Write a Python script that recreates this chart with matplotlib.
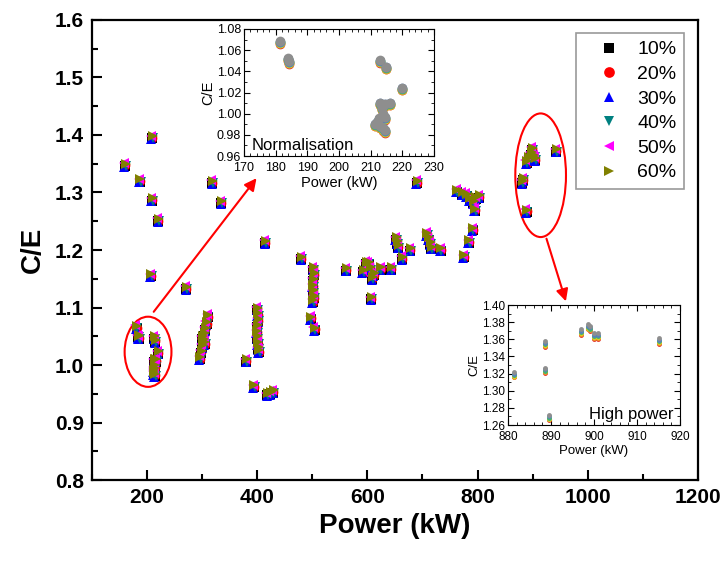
import matplotlib
matplotlib.use("Agg")
import matplotlib.pyplot as plt
import numpy as np
from matplotlib.patches import Ellipse
from matplotlib.ticker import MultipleLocator

plt.rcParams['font.family'] = ['Liberation Sans', 'DejaVu Sans']

# main plot: power (kW) and C/E of the 60% series
power = [160, 187, 209, 209, 220, 207, 271, 318, 335,
         181, 184, 185, 213, 215, 220, 213, 216, 214, 212, 214, 213, 212,
         296, 298, 300, 302, 304, 306, 308, 310, 300, 305,
         380,
         400, 401, 402, 400, 399, 400, 401, 402, 403,
         394, 418, 424, 429,
         415, 480,
         502, 503, 502, 501, 502, 503, 501, 497, 504,
         562,
         592, 598, 602, 605, 609, 612, 607, 624, 643,
         652, 654, 656, 663, 678,
         690,
         708, 711, 714, 716, 733,
         775, 784, 791,
         762, 772, 780, 786, 792, 797, 803, 795,
         881, 883, 889, 889, 893, 897, 899, 902, 905, 943]
ce = [1.350, 1.323, 1.398, 1.290, 1.254, 1.158, 1.136, 1.320, 1.285,
      1.068, 1.052, 1.050, 1.050, 1.044, 1.024, 1.010, 1.010, 1.000, 0.992, 0.985, 0.995, 0.988,
      1.014, 1.025, 1.035, 1.045, 1.055, 1.065, 1.075, 1.087, 1.050, 1.040,
      1.010,
      1.100, 1.090, 1.080, 1.070, 1.060, 1.050, 1.040, 1.031, 1.026,
      0.965, 0.951, 0.953, 0.956,
      1.216, 1.188,
      1.170, 1.160, 1.150, 1.140, 1.130, 1.120, 1.113, 1.084, 1.065,
      1.168,
      1.165, 1.180, 1.179, 1.170, 1.153, 1.160, 1.118, 1.170, 1.170,
      1.222, 1.215, 1.208, 1.188, 1.203,
      1.320,
      1.230, 1.222, 1.214, 1.206, 1.203,
      1.191, 1.217, 1.238,
      1.305, 1.300, 1.298, 1.290, 1.285, 1.292, 1.295, 1.272,
      1.320, 1.325, 1.270, 1.355, 1.362, 1.370, 1.378, 1.365, 1.360, 1.375]

labels = ['10%', '20%', '30%', '40%', '50%', '60%']
markers = ['s', 'o', '^', 'v', '<', '>']
colors = ['black', 'red', 'blue', '#008080', 'magenta', '#808000']
# how far each series sits from the 60% one
ce_shift = [-0.004, -0.003, -0.005, -0.004, 0.001, 0.0]
power_shift = [0, 0, -1.0, 1.5, -2.0, 1.0]

# normalisation inset
norm_power = [181.5, 184, 184.3, 213, 215, 220, 213, 214.5, 216, 213.5, 214, 214.5,
              212, 211.5, 213, 214, 214.5, 212.5]
norm_ce = [1.068, 1.052, 1.049, 1.050, 1.044, 1.024, 1.010, 1.009, 1.010, 1.005, 0.999, 0.996,
           0.992, 0.990, 0.988, 0.986, 0.984, 0.995]
norm_shift = [-0.002, -0.0015, -0.001, -0.0005, 0.0, 0.0005]

# high power inset
hp_power = [881.5, 888.5, 888.5, 889.5, 897, 898.5, 899, 900, 901, 915]
hp_ce = [1.322, 1.358, 1.327, 1.272, 1.372, 1.378, 1.376, 1.367, 1.367, 1.361]
hp_shift = [-0.0065, -0.0055, -0.0045, -0.0035, -0.002, 0.0]
inset_colors = ['#e0302a', '#f0a020', '#d8d820', '#40b070', '#5a82b8', '#8e8e8e']

fig = plt.figure(figsize=(7.27, 5.63), dpi=100)
ax = fig.add_axes([0.1265, 0.1474, 0.8335, 0.8171])

for i in range(6):
    ax.plot(np.array(power) + power_shift[i], np.array(ce) + ce_shift[i],
            linestyle='none', marker=markers[i], color=colors[i], markersize=7,
            markeredgewidth=0, label=labels[i])

ax.set_xlim(100, 1200)
ax.set_ylim(0.8, 1.6)
ax.xaxis.set_major_locator(MultipleLocator(200))
ax.xaxis.set_minor_locator(MultipleLocator(100))
ax.yaxis.set_major_locator(MultipleLocator(0.1))
ax.yaxis.set_minor_locator(MultipleLocator(0.05))
ax.yaxis.set_major_formatter(matplotlib.ticker.FormatStrFormatter('%.1f'))
ax.tick_params(which='both', direction='in', width=1.5, top=False, right=False)
ax.tick_params(which='major', length=7, labelsize=15, pad=6)
ax.tick_params(which='minor', length=4)
for lab in ax.get_xticklabels() + ax.get_yticklabels():
    lab.set_fontweight('bold')
for s in ax.spines.values():
    s.set_linewidth(1.6)
ax.set_xlabel('Power (kW)', fontsize=20, fontweight='bold', labelpad=4)
ax.set_ylabel('C/E', fontsize=20, fontweight='bold', labelpad=6)

leg = fig.legend(loc='upper right', bbox_to_anchor=(0.9409, 0.9414), borderaxespad=0,
                 fontsize=14, frameon=True, fancybox=False, edgecolor='#808080',
                 handletextpad=0.15, borderpad=0.4, labelspacing=0.36, handlelength=2.6,
                 markerscale=1.1)
leg.get_frame().set_linewidth(1.2)

ax.add_patch(Ellipse((201.8, 1.023), 85, 0.122, fill=False, edgecolor='red', linewidth=1.5))
ax.add_patch(Ellipse((914.5, 1.330), 92, 0.215, fill=False, edgecolor='red', linewidth=1.5))
ax.annotate('', xy=(401.8, 1.3287), xytext=(209, 1.0887),
            arrowprops=dict(arrowstyle='-|>', color='red', lw=1.5, mutation_scale=18))
ax.annotate('', xy=(961.8, 1.1061), xytext=(923.6, 1.2243),
            arrowprops=dict(arrowstyle='-|>', color='red', lw=1.5, mutation_scale=18))

# inset 1
ax1 = fig.add_axes([0.3356, 0.7229, 0.2613, 0.2256])
for i in range(6):
    ax1.plot(norm_power, np.array(norm_ce) + norm_shift[i], linestyle='none', marker='o',
             color=inset_colors[i], markersize=7, markeredgewidth=0)
ax1.set_xlim(170, 230)
ax1.set_ylim(0.96, 1.08)
ax1.xaxis.set_major_locator(MultipleLocator(10))
ax1.xaxis.set_minor_locator(MultipleLocator(2))
ax1.yaxis.set_major_locator(MultipleLocator(0.02))
ax1.yaxis.set_minor_locator(MultipleLocator(0.01))
ax1.yaxis.set_major_formatter(matplotlib.ticker.FormatStrFormatter('%.2f'))
ax1.tick_params(which='both', direction='in', top=True, right=True, labelsize=9)
ax1.tick_params(axis='x', pad=4)
ax1.tick_params(axis='y', pad=2)
ax1.tick_params(which='major', length=4)
ax1.tick_params(which='minor', length=2)
ax1.set_xlabel('Power (kW)', fontsize=10.5, labelpad=2)
ax1.set_ylabel('C/E', fontsize=10.5, labelpad=1)
ax1.text(0.04, 0.05, 'Normalisation', transform=ax1.transAxes, fontsize=12)

# inset 2
ax2 = fig.add_axes([0.6988, 0.2451, 0.2366, 0.2131])
for i in range(6):
    ax2.plot(hp_power, np.array(hp_ce) + hp_shift[i], linestyle='none', marker='o',
             color=inset_colors[i], markersize=3.5, markeredgewidth=0)
ax2.set_xlim(880, 920)
ax2.set_ylim(1.26, 1.40)
ax2.xaxis.set_major_locator(MultipleLocator(10))
ax2.xaxis.set_minor_locator(MultipleLocator(2))
ax2.yaxis.set_major_locator(MultipleLocator(0.02))
ax2.yaxis.set_minor_locator(MultipleLocator(0.01))
ax2.yaxis.set_major_formatter(matplotlib.ticker.FormatStrFormatter('%.2f'))
ax2.tick_params(which='both', direction='in', top=True, right=True, labelsize=8.5)
ax2.tick_params(axis='x', pad=4)
ax2.tick_params(axis='y', pad=2)
ax2.tick_params(which='major', length=4)
ax2.tick_params(which='minor', length=2)
ax2.set_xlabel('Power (kW)', fontsize=9.5, labelpad=2)
ax2.set_ylabel('C/E', fontsize=9.5, labelpad=1)
ax2.text(0.96, 0.05, 'High power', transform=ax2.transAxes, fontsize=12, ha='right')

fig.savefig('out.png', dpi=100)
